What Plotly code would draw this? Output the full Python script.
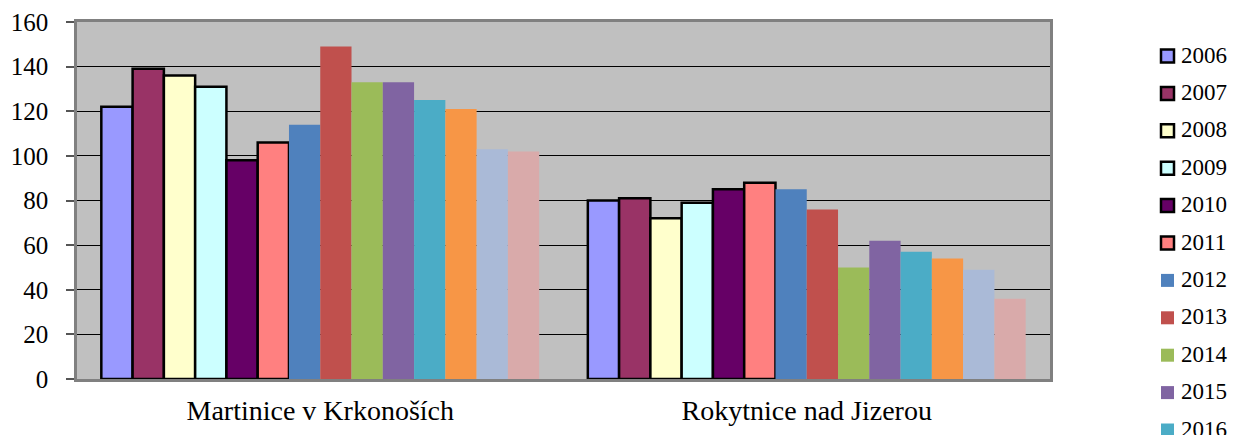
import plotly.graph_objects as go

categories = ["Martinice v Krkonoších", "Rokytnice nad Jizerou"]
years = ["2006", "2007", "2008", "2009", "2010", "2011", "2012", "2013",
         "2014", "2015", "2016", "2017", "2018", "2019"]
martinice = [122, 139, 136, 131, 98, 106, 114, 149, 133, 133, 125, 121, 103, 102]
rokytnice = [80, 81, 72, 79, 85, 88, 85, 76, 50, 62, 57, 54, 49, 36]
colors = ["#9999FF", "#993366", "#FFFFCC", "#CCFFFF", "#660066", "#FF8080",
          "#4F81BD", "#C0504D", "#9BBB59", "#8064A2", "#4BACC6", "#F79646",
          "#AABAD7", "#D9AAAA"]
outlined = [True] * 6 + [False] * 8
legend_visible = 11  # the original's legend runs off the bottom after 2016

font = "Liberation Serif"

# figure geometry (page has an 8px body margin)
W, H = 1230, 427
ML, MT, MR, MB = 69, 14, 188, 56
PW, PH = W - ML - MR, H - MT - MB


def px_to_paper(x, y):
    # x, y in figure pixels from the figure's top-left corner
    return (x - ML) / PW, (H - MB - y) / PH


fig = go.Figure()
for i, y in enumerate(years):
    fig.add_trace(go.Bar(
        name=y, x=categories, y=[martinice[i], rokytnice[i]],
        marker=dict(color=colors[i],
                    line=dict(color="black" if outlined[i] else colors[i],
                              width=2.5 if outlined[i] else 0)),
        showlegend=False,
    ))

# hand-built legend (the original's legend overflows the bottom edge)
shapes = []
annotations = []
for i, y in enumerate(years[:legend_visible]):
    cy = 48 + 37.4 * i
    x0, y0 = px_to_paper(1153, cy - 6.5)
    x1, y1 = px_to_paper(1166, cy + 6.5)
    shapes.append(dict(type="rect", xref="paper", yref="paper",
                       x0=x0, x1=x1, y0=y1, y1=y0,
                       fillcolor=colors[i],
                       line=dict(color="black" if outlined[i] else colors[i],
                                 width=2.5 if outlined[i] else 0)))
    tx, ty = px_to_paper(1171, cy - 1)
    annotations.append(dict(xref="paper", yref="paper", x=tx, y=ty,
                            xanchor="left", yanchor="middle", showarrow=False,
                            text=y, font=dict(size=23, family=font, color="black")))

fig.update_layout(
    width=W, height=H,
    margin=dict(l=ML, r=MR, t=MT, b=MB, autoexpand=False),
    barmode="group", bargap=0.1, bargroupgap=0,
    plot_bgcolor="#C0C0C0", paper_bgcolor="white",
    font=dict(family=font, size=25, color="black"),
    showlegend=False,
    shapes=shapes, annotations=annotations,
    yaxis=dict(range=[0, 160], dtick=20, showgrid=True, gridcolor="black",
               gridwidth=1.2, ticks="outside", ticklen=8, tickcolor="#555",
               tickwidth=1.5, ticklabelstandoff=13,
               showline=True, linecolor="#808080", linewidth=2.5, mirror=True,
               zeroline=False, tickfont=dict(size=25, family=font)),
    xaxis=dict(showline=True, linecolor="#808080", linewidth=2.5, mirror=True,
               ticks="", ticklabelstandoff=5, tickfont=dict(size=28, family=font)),
)
fig.write_html("out.html")
